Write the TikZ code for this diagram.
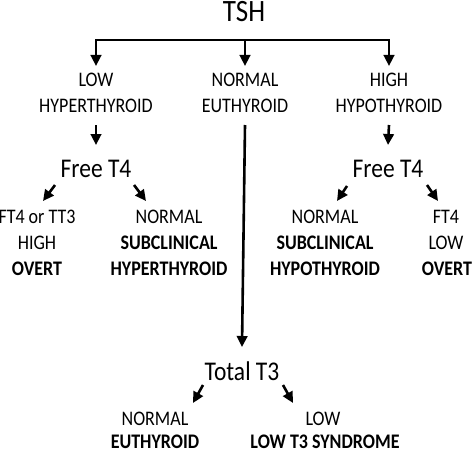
\documentclass[tikz,border=0pt]{standalone}
\usepackage{graphicx}
\usepackage{fontspec}
\setmainfont{Carlito}
\usetikzlibrary{arrows.meta,calc}
\newcommand{\vs}[1]{\scalebox{1}[1.15]{#1}}
\begin{document}
\begin{tikzpicture}[x=1pt,y=-1pt,
  lbl/.style={anchor=base, inner sep=0pt, font=\fontsize{18}{22}\selectfont},
  big/.style={anchor=base, inner sep=0pt, font=\fontsize{23.5}{28}\selectfont},
  huge/.style={anchor=base, inner sep=0pt, font=\fontsize{27}{30}\selectfont},
  arr/.style={line width=2.6pt, -{Triangle[length=11pt,width=10.5pt]}},
  bar/.style={line width=2.6pt, line cap=rect}]
\useasboundingbox (0,0) rectangle (474,452);
% title
\node[huge] (tsh) at (244,22) {\vs{TSH}};
% level 1
\node[lbl] (low1) at (96,86) {\vs{LOW}};
\node[lbl] (low2) at (96,112) {\vs{HYPERTHYROID}};
\node[lbl] (nor1) at (245,86) {\vs{NORMAL}};
\node[lbl] (nor2) at (245,112) {\vs{EUTHYROID}};
\node[lbl] (high1) at (389,86) {\vs{HIGH}};
\node[lbl] (high2) at (389,112) {\vs{HYPOTHYROID}};
% level 2
\node[big] (freeL) at (96,177) {\vs{Free T4}};
\node[big] (freeR) at (388,177) {\vs{Free T4}};
\node[lbl] (a1) at (37,223) {\vs{FT4 or TT3}};
\node[lbl] (a2) at (37,249) {\vs{HIGH}};
\node[lbl] (a3) at (37,275) {\vs{\textbf{OVERT}}};
\node[lbl] (b1) at (169,223) {\vs{NORMAL}};
\node[lbl] (b2) at (169,249) {\vs{\textbf{SUBCLINICAL}}};
\node[lbl] (b3) at (169,275) {\vs{\textbf{HYPERTHYROID}}};
\node[lbl] (c1) at (325,223) {\vs{NORMAL}};
\node[lbl] (c2) at (325,249) {\vs{\textbf{SUBCLINICAL}}};
\node[lbl] (c3) at (325,275) {\vs{\textbf{HYPOTHYROID}}};
\node[lbl] (d1) at (446,223) {\vs{FT4}};
\node[lbl] (d2) at (446,249) {\vs{LOW}};
\node[lbl] (d3) at (447,275) {\vs{\textbf{OVERT}}};
% level 3
\node[big] (total) at (242,380) {\vs{Total T3}};
\node[lbl] (e1) at (155,425) {\vs{NORMAL}};
\node[lbl] (e2) at (155,448) {\vs{\textbf{EUTHYROID}}};
\node[lbl] (f1) at (323,425) {\vs{LOW}};
\node[lbl] (f2) at (325,448) {\vs{\textbf{LOW T3 SYNDROME}}};
% top bar
\coordinate (bl) at (96,40);
\coordinate (bm) at (245,40);
\coordinate (br) at (389,40);
\draw[bar] (bl) -- (br);
\draw[arr] (bl) -- ($(low1.base)+(0,-20)$);
\draw[arr] (bm) -- ($(nor1.base)+(0,-20)$);
\draw[arr] (br) -- ($(high1.base)+(0,-20)$);
% verticals
\draw[arr] ($(low2.base)+(0,13)$) -- ($(freeL.base)+(0,-32)$);
\draw[arr] ($(nor2.base)+(0,13)$) -- ($(total.base)+(0,-33)$);
\draw[arr] ($(high2.base)+(0,13)$) -- ($(freeR.base)+(0,-32)$);
% diagonals
\draw[arr] ($(freeL.base)+(-41,8)$) -- ($(freeL.base)+(-53,24)$);
\draw[arr] ($(freeL.base)+(38,8)$) -- ($(freeL.base)+(50,24)$);
\draw[arr] ($(freeR.base)+(-41,9)$) -- ($(freeR.base)+(-51,24)$);
\draw[arr] ($(freeR.base)+(39,8)$) -- ($(freeR.base)+(50,24)$);
\draw[arr] ($(total.base)+(-39,5)$) -- ($(total.base)+(-49,23)$);
\draw[arr] ($(total.base)+(41,5)$) -- ($(total.base)+(51,23)$);
\end{tikzpicture}
\end{document}
